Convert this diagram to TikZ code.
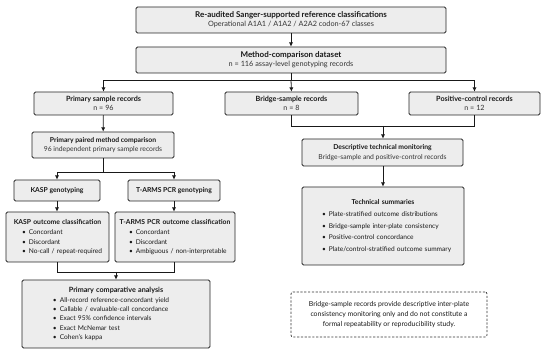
\documentclass[tikz,border=0pt]{standalone}
\usepackage{fontspec}
\setmainfont{Lato}
\usetikzlibrary{arrows.meta}
\newcommand\fsBig{\fontsize{8.0}{9.5}\selectfont}
\newcommand\fsSub{\fontsize{7.3}{9}\selectfont}
\newcommand\fsMid{\fontsize{7.2}{8.5}\selectfont}
\newcommand\fsSm{\fontsize{6.8}{9}\selectfont}
\newcommand\fsBody{\fontsize{6.6}{9.2}\selectfont}
\newcommand\fsNote{\fontsize{6.9}{9.6}\selectfont}
\newcommand\fsTech{\fontsize{6.6}{11.5}\selectfont}
\newcommand\bl[2]{\hspace*{#1pt}\textbullet\hspace{3pt}#2}
\begin{document}
\begin{tikzpicture}[x=1pt,y=-1pt,
  box/.style={draw=black!85, fill=black!7, line width=0.8pt, rounded corners=1.5pt,
    inner sep=0pt, align=center, text=black!90},
  notebox/.style={draw=black!80, fill=white, line width=0.7pt, rounded corners=2pt,
    dash pattern=on 2.2pt off 1.6pt, inner sep=0pt, align=center, text=black!90},
  conn/.style={line width=0.8pt, draw=black!90},
  arr/.style={conn, -{Latex[length=4.2pt,width=4.2pt]}}]
\useasboundingbox[fill=white] (0,0) rectangle (550,355);

% top level
\node[box, minimum width=310, minimum height=26, node font=\fsBig] (top) at (291,20)
  {\textbf{Re-audited Sanger-supported reference classifications}\\[-0.5pt]
   {\fsSub\color{black!80}Operational A1A1 / A1A2 / A2A2 codon-67 classes}};
\node[box, minimum width=310, minimum height=26, node font=\fsBig] (data) at (291,60)
  {\textbf{Method-comparison dataset}\\[-0.5pt]
   {\fsSub\color{black!80}n = 116 assay-level genotyping records}};

% second level
\node[box, minimum width=139, minimum height=23, node font=\fsMid] (prim) at (103.5,103.5)
  {\textbf{Primary sample records}\\{\color{black!80}n = 96}};
\node[box, minimum width=133, minimum height=23, node font=\fsMid] (bridge) at (291.5,103.5)
  {\textbf{Bridge-sample records}\\{\color{black!80}n = 8}};
\node[box, minimum width=131, minimum height=23, node font=\fsMid] (pos) at (474.5,103.5)
  {\textbf{Positive-control records}\\{\color{black!80}n = 12}};

% left column
\node[box, minimum width=142, minimum height=26, node font=\fsSm] (paired) at (103,145)
  {\textbf{Primary paired method comparison}\\[0.5pt]
   {\color{black!80}96 independent primary sample records}};
\node[box, minimum width=86, minimum height=21, node font=\fsSm] (kasp) at (57,190.5)
  {\textbf{KASP genotyping}};
\node[box, minimum width=92, minimum height=21, node font=\fsSm] (tarms) at (174,190.5)
  {\textbf{T-ARMS PCR genotyping}};
\node[box, text width=103, minimum height=50, align=left, node font=\fsBody] (kout) at (57.5,237)
  {\makebox[103pt]{\fsSm\bfseries KASP outcome classification}\\[1pt]
   \bl{16}{Concordant}\\
   \bl{16}{Discordant}\\
   \bl{16}{No-call / repeat-required}};
\node[box, text width=120, minimum height=50, align=left, node font=\fsBody] (tout) at (175,237)
  {\makebox[120pt]{\fsSm\bfseries T-ARMS PCR outcome classification}\\[1pt]
   \bl{14}{Concordant}\\
   \bl{14}{Discordant}\\
   \bl{14}{Ambiguous / non-interpretable}};
\node[box, text width=188, minimum height=68, align=left, node font=\fsBody] (comp) at (116,314)
  {\makebox[188pt]{\fsMid\bfseries Primary comparative analysis}\\[0.5pt]
   \bl{31}{All-record reference-concordant yield}\\
   \bl{31}{Callable / evaluable-call concordance}\\
   \bl{31}{Exact 95\% confidence intervals}\\
   \bl{31}{Exact McNemar test}\\
   \bl{31}{Cohen's kappa}};

% right column
\node[box, minimum width=161, minimum height=27, node font=\fsSm] (desc) at (382.5,152.5)
  {\textbf{Descriptive technical monitoring}\\[0.5pt]
   {\color{black!80}Bridge-sample and positive-control records}};
\node[box, text width=162, minimum height=78, align=left, node font=\fsTech] (tech) at (383,226)
  {\makebox[162pt]{\fsSm\bfseries Technical summaries}\\[1pt]
   \bl{20}{Plate-stratified outcome distributions}\\
   \bl{20}{Bridge-sample inter-plate consistency}\\
   \bl{20}{Positive-control concordance}\\
   \bl{20}{Plate/control-stratified outcome summary}};
\node[notebox, minimum width=196, minimum height=45, node font=\fsNote] (note) at (389,314.5)
  {Bridge-sample records provide descriptive inter-plate\\
   consistency monitoring only and do not constitute a\\
   formal repeatability or reproducibility study.};

% connectors
\coordinate (br) at (291,80);
\coordinate (pb) at (103,172);
\coordinate (jl) at (116,272);
\coordinate (jr) at (383,126);

\draw[arr] (top) -- (data);
\draw[conn] (data.south) -- (br);
\draw[arr] (br) -| (prim.north);
\draw[arr] (br) -- (bridge.north);
\draw[arr] (br) -| (pos.north);

\draw[arr] (prim) -- (paired);
\draw[conn] (paired.south) -- (pb);
\draw[arr] (pb) -| (kasp.north);
\draw[arr] (pb) -| (tarms.north);
\draw[arr] (kasp.south) -- (kasp.south |- kout.north);
\draw[arr] (tarms.south) -- (tarms.south |- tout.north);
\draw[conn] (kout.south -| kasp.south) |- (jl);
\draw[conn] (tout.south -| tarms.south) |- (jl);
\draw[arr] (jl) -- (comp.north -| jl);

\draw[conn] (bridge.south) |- (jr);
\draw[conn] (pos.south) |- (jr);
\draw[arr] (jr) -- (desc.north -| jr);
\draw[arr] (desc.south -| jr) -- (tech.north -| jr);
\end{tikzpicture}
\end{document}
